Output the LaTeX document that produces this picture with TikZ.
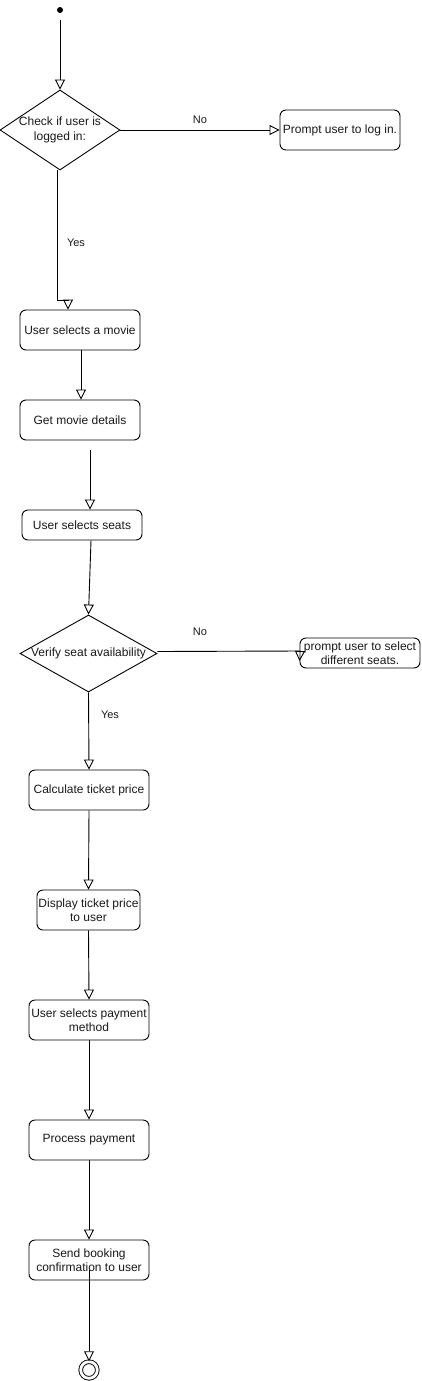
\documentclass[tikz,border=0pt]{standalone}
\usepackage{fontspec}
\setmainfont{Liberation Sans}
\usetikzlibrary{arrows.meta,shapes.geometric}
\newcommand{\boxfont}{\fontsize{12pt}{14.5pt}\selectfont}
\newcommand{\lblfont}{\fontsize{11pt}{13pt}\selectfont}
\tikzset{
  stepbox/.style={draw, line width=0.9pt, rounded corners=6pt, minimum width=120pt, minimum height=40pt, align=center, inner sep=0pt, font=\boxfont, text=black!90},
  dia/.style={draw, line width=0.9pt, shape=diamond, inner sep=0pt, minimum width=120pt, minimum height=80pt},
  arr/.style={draw, line width=0.9pt, -{Triangle[open, length=10pt, width=10pt]}},
  lbl/.style={font=\lblfont, text=black!90},
}
\begin{document}
\begin{tikzpicture}[x=1pt, y=-1pt]
\useasboundingbox (0,0) rectangle (421,1381);
% start / end
\node[circle, fill=black, minimum size=6pt, inner sep=0pt] (s) at (60,10) {};
\node[circle, draw, line width=0.9pt, double, double distance=2.8pt, minimum size=16.6pt, inner sep=0pt] (e) at (89,1370) {};
% decisions
\node[dia] (d1) at (60,130) {};
\node[font=\boxfont, align=center, text=black!90] (d1t) at (60,130) {Check if user is\\logged in:};
\node[dia, minimum width=137pt, minimum height=77pt] (d2) at (88.5,653.5) {};
\node[font=\boxfont, text=black!90] (d2t) at (88.5,653.5) {Verify seat availability};
% boxes
\node[stepbox] (login) at (340,130) {Prompt user to log in.};
\node[stepbox] (movie) at (80,330) {User selects a movie};
\node[stepbox] (details) at (80,420) {Get movie details};
\node[stepbox, minimum height=30pt] (seats) at (82,525) {User selects seats};
\node[stepbox, minimum height=30pt] (p2) at (360,653) {prompt user to select\\different seats.};
\node[stepbox] (calc) at (89,790) {Calculate ticket price};
\node[stepbox, minimum width=103pt] (disp) at (88.5,910) {Display ticket price\\to user};
\node[stepbox] (pay) at (89,1020) {User selects payment\\method};
\node[stepbox] (proc) at (89,1140) {Process payment};
\node[stepbox] (send) at (89,1260) {Send booking\\confirmation to user};
% connectors
\draw[arr, shorten <=7pt] (s) -- (d1.north);
\draw[arr] (d1.east) -- (login.west);
\node[lbl] (no1) at (200,120) {No};
\coordinate (y1) at (68,300);
\draw[arr] ([xshift=-3pt]d1.south) |- (y1) -- ([xshift=-12pt]movie.north);
\node[lbl] (yes1) at (76,243) {Yes};
\draw[arr] ([xshift=1pt]movie.south) -- ([xshift=1pt]details.north);
\coordinate (c1) at (90,450);
\draw[arr] (c1) -- ([xshift=8pt]seats.north);
\draw[arr] ([xshift=9pt]seats.south) -- (d2.north);
\coordinate (c2) at (300,651);
\draw[arr] ([yshift=2pt]d2.east) -- (c2) -- (p2.west |- 0,661);
\node[lbl] (no2) at (200,632) {No};
\draw[arr] (d2.south) -- (calc.north);
\node[lbl] (yes2) at (110,715) {Yes};
\draw[arr] (calc.south) -- (disp.north);
\draw[arr] (disp.south) -- (pay.north);
\draw[arr] (pay.south) -- (proc.north);
\draw[arr] (proc.south) -- (send.north);
\draw[arr] ([yshift=10pt]send.south) -- (e.north);
\end{tikzpicture}
\end{document}
